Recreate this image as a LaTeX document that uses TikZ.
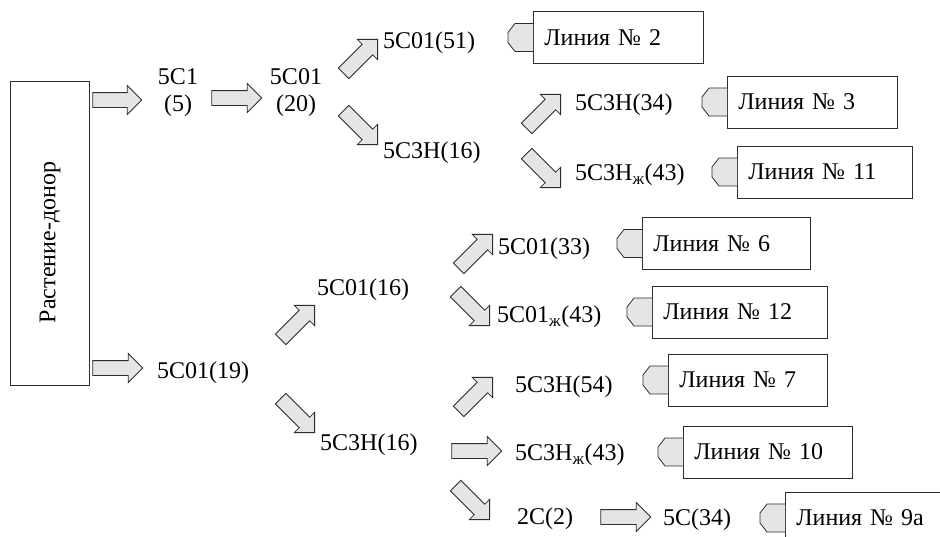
\documentclass[tikz,border=0pt]{standalone}
\usepackage{fontspec}
\setmainfont{Liberation Serif}
\newfontfamily\tms{Liberation Serif}
\usetikzlibrary{shapes.arrows,calc}
\definecolor{ln}{RGB}{45,45,45}
\definecolor{fl}{RGB}{228,230,228}
\tikzset{
  lbl/.style={font=\tms\fontsize{24}{27}\selectfont, inner sep=0pt, anchor=west, text=black, yshift=-2.5pt},
  bigarrow/.style={single arrow, draw=ln, fill=fl, line width=0.8pt, inner sep=7pt,
    single arrow head extend=7pt, single arrow tip angle=90, single arrow head indent=0pt,
    minimum width=28pt, anchor=center},
  linebox/.style={draw=ln, fill=white, line width=0.8pt, minimum height=52pt, inner xsep=11pt,
    inner ysep=0pt, anchor=west, align=left, font=\tms\fontsize{24}{27}\selectfont},
  tabshape/.style={draw=ln, fill=fl, line width=0.8pt},
  donor/.style={draw=ln, line width=0.8pt, minimum width=79pt, minimum height=304pt, inner sep=0pt},
}
\newcommand{\blk}[3]{\path let \p1=(#2), \p2=(#3), \n1={atan2(\y2-\y1,\x2-\x1)},
  \n2={veclen(\x2-\x1,\y2-\y1)} in node[bigarrow, minimum height=\n2, rotate=\n1] (#1) at ($(\p1)!0.5!(\p2)$) {};}
\newcommand{\tabat}[1]{\draw[tabshape] ([yshift=14pt]#1.west) -- ++(-18pt,0pt) -- ++(-7pt,-9pt)
  -- ++(0pt,-10pt) -- ++(7pt,-9pt) -- ++(18pt,0pt);}
\begin{document}
\begin{tikzpicture}[x=1pt,y=-1pt]
\useasboundingbox (0,0) rectangle (940,536);
\clip (0,0) rectangle (940,536);
\fill[white] (0,0) rectangle (940,536);

% donor box
\node[donor] (donor) at (49.5,233) {};
\node[lbl, anchor=center, rotate=90] (donortxt) at (50,240) {Растение-донор};

% text nodes
\node[lbl, anchor=center, align=center] (t5c1) at (178,90) {5C1\\(5)};
\node[lbl, anchor=center, align=center] (t5c01a) at (296,90) {5C01\\(20)};
\node[lbl] (t51) at (383,40) {5C01(51)};
\node[lbl] (t16a) at (383,150) {5C3H(16)};
\node[lbl] (t34) at (575,102) {5C3H(34)};
\node[lbl] (t43a) at (575,172) {5C3H\textsubscript{ж}(43)};
\node[lbl] (t19) at (157,370) {5C01(19)};
\node[lbl] (t16b) at (317,287) {5C01(16)};
\node[lbl] (t16c) at (320,442) {5C3H(16)};
\node[lbl] (t33) at (498,246) {5C01(33)};
\node[lbl] (t43b) at (497,314) {5C01\textsubscript{ж}(43)};
\node[lbl] (t54) at (515,384) {5C3H(54)};
\node[lbl] (t43c) at (515,452) {5C3H\textsubscript{ж}(43)};
\node[lbl] (t2) at (517,516) {2C(2)};
\node[lbl] (t5c34) at (663,517) {5C(34)};

% arrow end coordinates
\coordinate (a1s) at (89,100);  \coordinate (a1e) at (138,100);
\coordinate (a2s) at (208,98);  \coordinate (a2e) at (258,98);
\coordinate (a3s) at (89,368);  \coordinate (a3e) at (139,368);
\coordinate (d1s) at (341,76);  \coordinate (d1e) at (375,42);
\coordinate (d2s) at (341,108); \coordinate (d2e) at (375,142);
\coordinate (d3s) at (524,131); \coordinate (d3e) at (558,97);
\coordinate (d4s) at (524,151); \coordinate (d4e) at (558,185);
\coordinate (d5s) at (278,342); \coordinate (d5e) at (312,308);
\coordinate (d6s) at (278,396); \coordinate (d6e) at (312,430);
\coordinate (d7s) at (456,271); \coordinate (d7e) at (490,237);
\coordinate (d8s) at (453,289); \coordinate (d8e) at (487,323);
\coordinate (d9s) at (456,414); \coordinate (d9e) at (490,380);
\coordinate (h4s) at (448,451); \coordinate (h4e) at (498,451);
\coordinate (d10s) at (453,483); \coordinate (d10e) at (487,517);
\coordinate (h5s) at (597,517); \coordinate (h5e) at (647,517);

\blk{A1}{a1s}{a1e}
\blk{A2}{a2s}{a2e}
\blk{A3}{a3s}{a3e}
\blk{D1}{d1s}{d1e}
\blk{D2}{d2s}{d2e}
\blk{D3}{d3s}{d3e}
\blk{D4}{d4s}{d4e}
\blk{D5}{d5s}{d5e}
\blk{D6}{d6s}{d6e}
\blk{D7}{d7s}{d7e}
\blk{D8}{d8s}{d8e}
\blk{D9}{d9s}{d9e}
\blk{H4}{h4s}{h4e}
\blk{D10}{d10s}{d10e}
\blk{H5}{h5s}{h5e}

% line boxes
\node[linebox, text width=148pt] (b2) at (533,37.5) {Линия № 2};
\node[linebox, text width=148pt] (b3) at (727,102) {Линия № 3};
\node[linebox, text width=153pt] (b11) at (737,172) {Линия № 11};
\node[linebox, text width=146pt] (b6) at (642,243.5) {Линия № 6};
\node[linebox, text width=153pt] (b12) at (652,312) {Линия № 12};
\node[linebox, text width=137pt] (b7) at (668,380) {Линия № 7};
\node[linebox, text width=147pt] (b10) at (683,452) {Линия № 10};
\node[linebox, text width=160pt] (b9) at (785,518) {Линия № 9а};

\tabat{b2}
\tabat{b3}
\tabat{b11}
\tabat{b6}
\tabat{b12}
\tabat{b7}
\tabat{b10}
\tabat{b9}
\end{tikzpicture}
\end{document}
